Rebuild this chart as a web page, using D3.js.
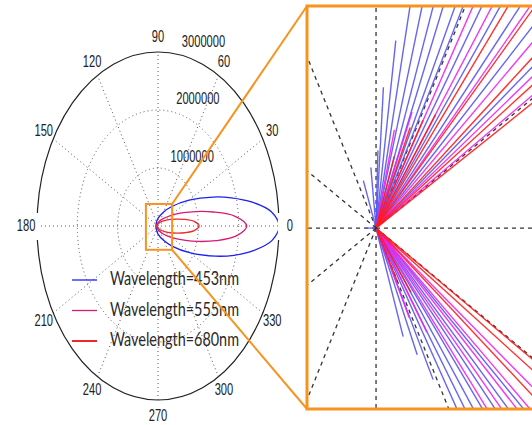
<!DOCTYPE html>
<html>
<head>
<meta charset="utf-8">
<script src="https://cdn.jsdelivr.net/npm/d3@7"></script>
<style>
  body { margin: 0; background: #fff; }
  svg { display: block; }
</style>
</head>
<body>
<svg id="chart"></svg>
<script>
// polar data (r in units of 1,000,000)
const curveAngles = [0, 5, 10, 15, 20, 30, 45, 60, 90, 120, 150, 180, 210, 240, 270, 300, 315, 330, 340, 345, 350, 355];
const r453 = [3.0, 2.82, 2.37, 1.88, 1.46, 0.89, 0.47, 0.28, 0.13, 0.075, 0.055, 0.05, 0.055, 0.075, 0.14, 0.29, 0.49, 0.93, 1.52, 1.95, 2.42, 2.84];
const r555 = [2.2, 1.92, 1.39, 0.96, 0.67, 0.36, 0.18, 0.11, 0.058, 0.04, 0.032, 0.03, 0.032, 0.04, 0.062, 0.12, 0.2, 0.4, 0.73, 1.03, 1.46, 1.95];
const r680 = [1.02, 0.90, 0.66, 0.46, 0.33, 0.185, 0.10, 0.066, 0.04, 0.032, 0.03, 0.03, 0.03, 0.032, 0.041, 0.068, 0.103, 0.19, 0.34, 0.47, 0.67, 0.90];
const seriesNames = ["Wavelength=453nm", "Wavelength=555nm", "Wavelength=680nm"];

const ringValues = [1000000, 2000000, 3000000];
const ringLabels = ["1000000", "2000000", "3000000"];
const spokeAngles = [0, 30, 60, 90, 120, 150, 180, 210, 240, 270, 300, 330];

// zoomed region (data units, millions)
const zoomX = [-0.30, 0.35];
const zoomY = [-0.41, 0.38];

// rays in the magnified view: polar angle (deg) and length (millions)
const blueRayAngles  = [77.6, 73.4, 69.7, 66.5, 62.9, 60.6, 55.6, 51.2, 47.0, 41.9, 35.7, 81.4, 85.7, 88, 97, 111, 180,
                        -70.3, -65.0, -61.6, -57.3, -54.8, -52.3, -49.8, -46.6, -43.6, -40.5];
const blueRayLengths = [1, 1, 1, 1, 1, 1, 1, 1, 1, 1, 1, 0.373, 0.278, 0.153, 0.12, 0.10, 0.03,
                        0.227, 0.275, 0.339, 1, 1, 1, 1, 1, 1, 1];
const magentaRayAngles  = [57.9, 53.1, 45.1, 39.6, 34.0, 30.6, 75, 66, -48.6, -45.1, -41.8, -39.3, -35.3, -62, -55];
const magentaRayLengths = [1, 1, 1, 1, 1, 1, 0.2, 0.25, 1, 1, 1, 1, 1, 0.2, 0.25];
const redRayAngles  = [49.5, 44.2, 37.2, 32.5, 29.1, 70, 64, 58, 53, -36.7, -32.3, -30.3, -60, -52];
const redRayLengths = [1, 1, 1, 1, 1, 0.15, 0.22, 0.25, 0.28, 1, 1, 1, 0.12, 0.16];

const width = 532, height = 425;
const orange = "#f7931e";
const colors = ["#1f1ff0", "#d81b72", "#f02828"];
const rayColors = ["#5555ee", "#f022f0", "#ff1a1a"];
const labelFont = "Liberation Sans, Arial, sans-serif";

const svg = d3.select("#chart").attr("width", width).attr("height", height);

const px = d3.scaleLinear().domain([-3, 3]).range([37, 279]);
const py = d3.scaleLinear().domain([-3, 3]).range([400, 52]);
const rad = d => d * Math.PI / 180;

const gridG = svg.append("g");
// rings
ringValues.slice(0, 2).forEach(v => {
    const r = v / 1e6;
    gridG.append("ellipse")
        .attr("cx", px(0)).attr("cy", py(0))
        .attr("rx", px(r) - px(0)).attr("ry", py(0) - py(r))
        .attr("fill", "none").attr("stroke", "#555")
        .attr("stroke-width", 1).attr("stroke-dasharray", "1,3");
});
// spokes
spokeAngles.slice(0, 6).forEach(a => {
    gridG.append("line")
        .attr("x1", px(-3 * Math.cos(rad(a)))).attr("y1", py(-3 * Math.sin(rad(a))))
        .attr("x2", px(3 * Math.cos(rad(a)))).attr("y2", py(3 * Math.sin(rad(a))))
        .attr("stroke", "#555").attr("stroke-width", 1).attr("stroke-dasharray", "1,3");
});
// outer boundary
gridG.append("ellipse")
    .attr("cx", px(0)).attr("cy", py(0))
    .attr("rx", px(3) - px(0)).attr("ry", py(0) - py(3))
    .attr("fill", "none").attr("stroke", "#222").attr("stroke-width", 1.2);

// polar curves
const curveLine = d3.line()
    .x(d => px(d[1] * Math.cos(rad(d[0]))))
    .y(d => py(d[1] * Math.sin(rad(d[0]))))
    .curve(d3.curveCatmullRomClosed.alpha(0.5));

[r453, r555, r680].forEach((rs, i) => {
    svg.append("path")
        .datum(curveAngles.map((a, j) => [a, rs[j]]))
        .attr("d", curveLine)
        .attr("fill", "none")
        .attr("stroke", colors[i])
        .attr("stroke-width", 1.3);
});

// narrow text: draw normally, then squeeze horizontally to the wanted width
function squeezed(x, y, text, anchor, family, size, targetWidth, fill) {
    const t = svg.append("text")
        .attr("text-anchor", anchor)
        .attr("dominant-baseline", "central")
        .attr("font-family", family)
        .attr("font-size", size)
        .attr("fill", fill)
        .text(text);
    const sx = targetWidth / t.node().getComputedTextLength();
    t.attr("transform", `translate(${x},${y}) scale(${sx},1)`);
    return t;
}

// angle labels
spokeAngles.forEach(a => {
    const x = px(3.27 * Math.cos(rad(a)));
    const y = py(3.27 * Math.sin(rad(a)));
    if (a === 0 || a === 180) {
        svg.append("rect")
            .attr("x", a === 0 ? x - 12 : x - 11).attr("y", y - 13)
            .attr("width", 24).attr("height", 27).attr("fill", "#fff");
    }
    squeezed(x, y, String(a), "middle", labelFont, 16, String(a).length * 6.2, "#222");
});

// ring labels
ringValues.forEach((v, i) => {
    const r = v / 1e6;
    const x = px(r * Math.cos(rad(82))) + 7;
    const y = py(r * Math.sin(rad(82))) - 12;
    squeezed(x, y, ringLabels[i], "start", labelFont, 16, ringLabels[i].length * 6.2, "#222");
});

// legend
seriesNames.forEach((name, i) => {
    const y = 280 + i * 30.5;
    svg.append("line")
        .attr("x1", 72).attr("x2", 97).attr("y1", y).attr("y2", y)
        .attr("stroke", colors[i]).attr("stroke-width", i === 2 ? 2 : 1.3);
    squeezed(110, y - 2, name, "start", "Lato, 'Open Sans', sans-serif", 19, 129, "#2a2a2a");
});

// magnified view
const ix = d3.scaleLinear().domain([-0.195, 0.449]).range([307, 535]);
const iy = d3.scaleLinear().domain([-0.356, 0.437]).range([409, 6]);

svg.append("clipPath").attr("id", "insetClip")
    .append("rect")
    .attr("x", ix.range()[0]).attr("y", iy.range()[1])
    .attr("width", ix.range()[1] - ix.range()[0])
    .attr("height", iy.range()[0] - iy.range()[1]);

svg.append("rect")
    .attr("x", ix.range()[0]).attr("y", iy.range()[1])
    .attr("width", ix.range()[1] - ix.range()[0])
    .attr("height", iy.range()[0] - iy.range()[1])
    .attr("fill", "#fff");

const inset = svg.append("g").attr("clip-path", "url(#insetClip)");

spokeAngles.forEach(a => {
    inset.append("line")
        .attr("x1", ix(0)).attr("y1", iy(0))
        .attr("x2", ix(2 * Math.cos(rad(a)))).attr("y2", iy(2 * Math.sin(rad(a))))
        .attr("stroke", "#333").attr("stroke-width", 1.3).attr("stroke-dasharray", "4,4");
});

[[blueRayAngles, blueRayLengths], [magentaRayAngles, magentaRayLengths], [redRayAngles, redRayLengths]]
    .forEach(([angles, lengths], i) => {
        inset.selectAll(null)
            .data(angles.map((a, j) => [a, lengths[j]]))
            .enter().append("line")
            .attr("x1", d => ix(0.004 * Math.cos(rad(d[0]))))
            .attr("y1", d => iy(0.004 * Math.sin(rad(d[0]))))
            .attr("x2", d => ix(d[1] * Math.cos(rad(d[0]))))
            .attr("y2", d => iy(d[1] * Math.sin(rad(d[0]))))
            .attr("stroke", rayColors[i])
            .attr("stroke-width", 1.4)
            .attr("stroke-opacity", 0.9);
    });

svg.append("rect")
    .attr("x", ix.range()[0]).attr("y", iy.range()[1])
    .attr("width", ix.range()[1] - ix.range()[0])
    .attr("height", iy.range()[0] - iy.range()[1])
    .attr("fill", "none").attr("stroke", orange).attr("stroke-width", 3);

// zoom box and connectors
svg.append("rect")
    .attr("x", px(zoomX[0])).attr("y", py(zoomY[1]))
    .attr("width", px(zoomX[1]) - px(zoomX[0]))
    .attr("height", py(zoomY[0]) - py(zoomY[1]))
    .attr("fill", "none").attr("stroke", orange).attr("stroke-width", 2);

svg.append("line")
    .attr("x1", px(zoomX[1])).attr("y1", py(zoomY[1]))
    .attr("x2", ix.range()[0]).attr("y2", iy.range()[1])
    .attr("stroke", orange).attr("stroke-width", 2);
svg.append("line")
    .attr("x1", px(zoomX[1])).attr("y1", py(zoomY[0]))
    .attr("x2", ix.range()[0]).attr("y2", iy.range()[0])
    .attr("stroke", orange).attr("stroke-width", 2);
</script>
</body>
</html>
